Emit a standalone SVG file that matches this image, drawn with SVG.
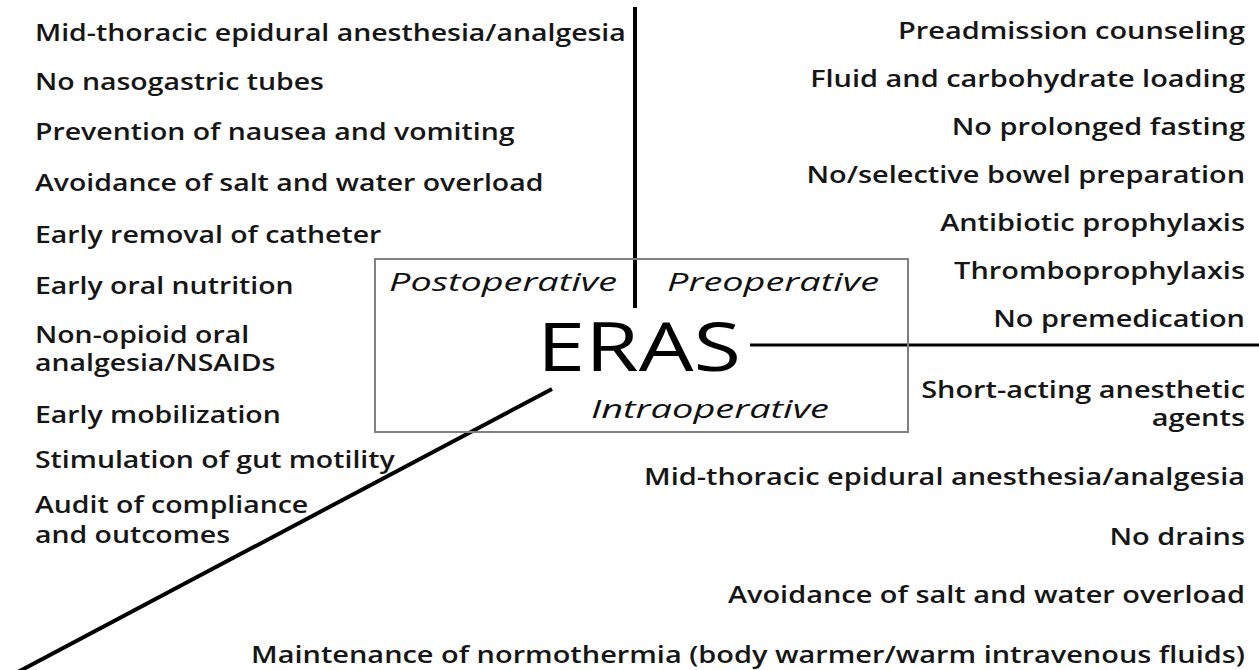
<svg xmlns="http://www.w3.org/2000/svg" width="1259" height="670" viewBox="0 0 1259 670">
<style>
.t{font-family:"Open Sans","Liberation Sans",sans-serif;font-weight:600;font-size:24px;fill:#161616}
.r{text-anchor:end}
.i{font-family:"Open Sans","Liberation Sans",sans-serif;font-style:italic;font-weight:500;font-size:25px;fill:#111}
.big{font-family:"Open Sans","Liberation Sans",sans-serif;font-weight:400;font-size:68px;fill:#000}
.ln{stroke:#000;fill:none}
</style>
<rect width="1259" height="670" fill="#fff"/>
<g id="connectors">
<line class="ln" x1="635" y1="7" x2="635" y2="308" stroke-width="4"/>
<line class="ln" x1="750" y1="345" x2="1259" y2="345" stroke-width="3"/>
<line class="ln" x1="552" y1="389" x2="16" y2="673" stroke-width="4"/>
</g>
<g id="center">
<rect x="375" y="259" width="533" height="173" fill="none" stroke="#808080" stroke-width="2"/>
<text class="i" x="389" y="291" textLength="228" lengthAdjust="spacingAndGlyphs">Postoperative</text>
<text class="i" x="667" y="291" textLength="212" lengthAdjust="spacingAndGlyphs">Preoperative</text>
<text class="big" x="537" y="371" textLength="204" lengthAdjust="spacingAndGlyphs">ERAS</text>
<text class="i" x="591" y="418" textLength="238" lengthAdjust="spacingAndGlyphs">Intraoperative</text>
</g>
<g id="postoperative" transform="matrix(1.185,0,0,1,-6.475,0)">
<text class="t" x="35" y="41">Mid-thoracic epidural anesthesia/analgesia</text>
<text class="t" x="35" y="90">No nasogastric tubes</text>
<text class="t" x="35" y="140">Prevention of nausea and vomiting</text>
<text class="t" x="35" y="191">Avoidance of salt and water overload</text>
<text class="t" x="35" y="243">Early removal of catheter</text>
<text class="t" x="35" y="294">Early oral nutrition</text>
<text class="t" x="35" y="343">Non-opioid oral<tspan x="35" y="371">analgesia/NSAIDs</tspan></text>
<text class="t" x="35" y="423">Early mobilization</text>
<text class="t" x="35" y="468">Stimulation of gut motility</text>
<text class="t" x="35" y="513">Audit of compliance<tspan x="35" y="543">and outcomes</tspan></text>
</g>
<g id="preoperative" transform="matrix(1.205,0,0,1,-255.225,0)">
<text class="t r" x="1245" y="39">Preadmission counseling</text>
<text class="t r" x="1245" y="87">Fluid and carbohydrate loading</text>
<text class="t r" x="1245" y="135">No prolonged fasting</text>
<text class="t r" x="1245" y="183">No/selective bowel preparation</text>
<text class="t r" x="1245" y="231">Antibiotic prophylaxis</text>
<text class="t r" x="1245" y="279">Thromboprophylaxis</text>
<text class="t r" x="1245" y="327">No premedication</text>
</g>
<g id="intraoperative" transform="matrix(1.205,0,0,1,-255.225,0)">
<text class="t r" x="1245" y="398">Short-acting anesthetic<tspan x="1245" y="426">agents</tspan></text>
<text class="t r" x="1245" y="485">Mid-thoracic epidural anesthesia/analgesia</text>
<text class="t r" x="1245" y="545">No drains</text>
<text class="t r" x="1245" y="603">Avoidance of salt and water overload</text>
<text class="t r" x="1245" y="663">Maintenance of normothermia (body warmer/warm intravenous fluids)</text>
</g>
</svg>
